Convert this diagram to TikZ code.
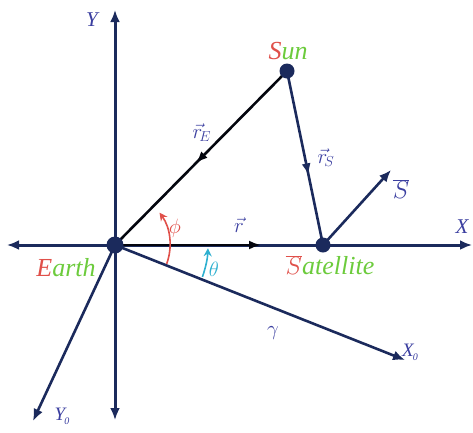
\documentclass[tikz,border=0pt]{standalone}
\usepackage{fontspec}
\setmainfont{Liberation Serif}
\usetikzlibrary{arrows.meta,decorations.markings,calc}
\definecolor{navy}{HTML}{1B2A5C}
\definecolor{lbl}{HTML}{3B3FA0}
\definecolor{rd}{HTML}{E0504A}
\definecolor{gr}{HTML}{6CCB3C}
\definecolor{cy}{HTML}{2FB0D0}
\tikzset{
  ax/.style={draw=navy,line width=3pt,-{Latex[length=12pt,width=10pt]}},
  ln/.style={draw=navy,line width=2.6pt},
  vec/.style={draw=black!85!navy,line width=2.6pt,-{Latex[length=12pt,width=9pt]}},
  midarrow/.style={postaction={decorate},decoration={markings,mark=at position #1 with {\arrow{Latex[length=12pt,width=9pt]}}}},
  dot/.style={circle,fill=navy,inner sep=0pt,minimum size=#1},
  lab/.style={text=lbl,font=\itshape\fontsize{21}{24}\selectfont,inner sep=1pt},
  big/.style={font=\itshape\fontsize{26}{28}\selectfont},
}
\begin{document}
\begin{tikzpicture}[x=1pt,y=-1pt]
\useasboundingbox (0,0) rectangle (473,432);
\coordinate (E) at (115,245);
\coordinate (Sn) at (287,71);
\coordinate (St) at (323,245);
\coordinate (Ytop) at (115,10);
\coordinate (Ybot) at (115,420);
\coordinate (Xl) at (7,245);
\coordinate (Xr) at (472,245);
\coordinate (X0) at (405,360);
\coordinate (Y0) at (33,421);
\coordinate (rend) at (261,245);
\coordinate (Sbar) at (391,170);
% axes
\draw[ax] (E) -- (Ytop);
\draw[ax] (E) -- (Ybot);
\draw[ax] (E) -- (Xl);
\draw[ax] (E) -- (Xr);
\draw[ax,line width=2.6pt] (E) -- (X0);
\draw[ax,line width=2.6pt] (E) -- (Y0);
% vectors
\draw[ln,draw=black!85!navy,midarrow=0.53] (Sn) -- (E);
\draw[ln,midarrow=0.6] (Sn) -- (St);
\draw[vec] (E) -- (rend);
\draw[ax,line width=2.6pt] (St) -- (Sbar);
% angles
\draw[draw=rd,line width=1.6pt,-{Stealth[length=8pt,width=8pt]}] ($(E)+(20:55)$) arc[start angle=20,end angle=-36,radius=55];
\draw[draw=cy,line width=1.6pt,-{Stealth[length=8pt,width=8pt]}] ($(E)+(20:93)$) arc[start angle=20,end angle=2,radius=93];
% points
\node[dot=17pt] (earth) at (E) {};
\node[dot=15pt] (sun) at (Sn) {};
\node[dot=15pt] (sat) at (St) {};
% labels
\node[lab] (lY) at (92,20) {Y};
\node[lab] (lX) at (462,227) {X};
\node[lab,font=\itshape\fontsize{19}{22}\selectfont] (lX0) at (410,352) {X\kern-1pt\raisebox{-4pt}{\fontsize{10}{10}\selectfont 0}};
\node[lab,font=\itshape\fontsize{19}{22}\selectfont] (lY0) at (62,416) {Y\kern-1pt\raisebox{-4pt}{\fontsize{10}{10}\selectfont 0}};
\node[lab] (lgam) at (273,333) {$\gamma$};
\node[lab] (lr) at (239,225) {$\vec r$};
\node[lab] (lrE) at (202,133) {$\vec r_{\!E}$};
\node[lab] (lrS) at (326,158) {$\vec r_{\!S}$};
\node[lab,font=\fontsize{26}{28}\selectfont] (lSb) at (401,189) {$\overline{S}$};
\node[lab,text=rd] (lphi) at (175,228) {$\phi$};
\node[lab,text=cy] (lth) at (214,269) {$\theta$};
\node[lab,big] (lE) at (66,268) {\textcolor{rd}{E}\textcolor{gr}{arth}};
\node[lab,big] (lS) at (288,51) {\textcolor{rd}{S}\textcolor{gr}{un}};
\node[lab,big] (lSat) at (330,265) {\textcolor{rd}{$\overline{S}$}\textcolor{gr}{atellite}};
\end{tikzpicture}
\end{document}
